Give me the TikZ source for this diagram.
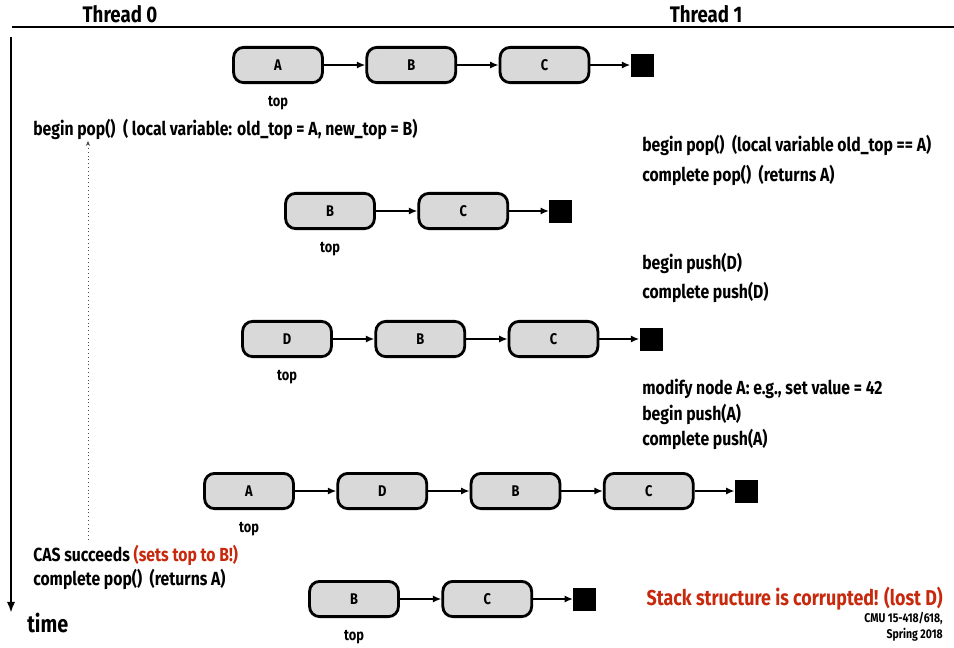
\documentclass[tikz,border=0pt]{standalone}
\usepackage{fontspec}
\setmainfont{Fira Sans}[FakeStretch=0.83]
\usepackage{tikz}
\usetikzlibrary{arrows.meta,positioning}
\definecolor{alarm}{RGB}{200,40,12}

\begin{document}
\begin{tikzpicture}[x=0.025cm,y=-0.025cm,
  cell/.style={draw,line width=2pt,rounded corners=0.25cm,fill=black!15,
    minimum width=2.22cm,minimum height=0.88cm,font=\bfseries\fontsize{11}{13}\selectfont},
  nil/.style={fill=black,minimum size=0.575cm,inner sep=0pt},
  link/.style={-{Latex[length=6pt,width=5pt]},line width=1.3pt},
  toplbl/.style={font=\bfseries\fontsize{11}{13}\selectfont},
  event/.style={anchor=west,inner sep=0pt,font=\bfseries\fontsize{13.5}{16}\selectfont},
  header/.style={font=\bfseries\fontsize{16}{18}\selectfont},
  node distance=1.04cm]
  \useasboundingbox (0,0) rectangle (954,647);
  % Headers and rule
  \node[header] (th0) at (120,14) {Thread 0};
  \node[header] (th1) at (706,14) {Thread 1};
  \coordinate (ruleL) at (12,27);
  \coordinate (ruleR) at (954,27);
  \draw[line width=0.8pt] (ruleL) -- (ruleR);
  % Time axis
  \coordinate (tstart) at (11,37);
  \coordinate (tend) at (11,613);
  \draw[-{Latex[length=8pt,width=6pt]},line width=1.6pt] (tstart) -- (tend);
  \node[anchor=west,inner sep=0pt,font=\bfseries\fontsize{17}{19}\selectfont] (time) at (27,623) {time};

  % Stack 1: A -> B -> C
  \node[cell] (a1) at (278,65) {A};
  \node[cell,right=of a1] (b1) {B};
  \node[cell,right=of b1] (c1) {C};
  \node[nil,right=1.0cm of c1] (n1) {};
  \node[toplbl,below=0.17cm of a1] (t1) {top};
  \draw[link] (a1) -- (b1);
  \draw[link] (b1) -- (c1);
  \draw[link] (c1) -- (n1);

  % Thread 0 starts pop
  \node[event] (pop0) at (33,129) {begin pop()\ \ ( local variable: old\_top = A, new\_top = B)};

  % Thread 1 pops A
  \node[event] (pop1) at (642,145) {begin pop()\ \ (local variable old\_top == A)};
  \node[event] (done1) at (642,175) {complete pop()\ \ (returns A)};

  % Stack 2: B -> C
  \node[cell] (b2) at (330,211) {B};
  \node[cell,right=of b2] (c2) {C};
  \node[nil,right=1.0cm of c2] (n2) {};
  \node[toplbl,below=0.17cm of b2] (t2) {top};
  \draw[link] (b2) -- (c2);
  \draw[link] (c2) -- (n2);

  % Thread 1 pushes D
  \node[event] (pushD) at (642,263) {begin push(D)};
  \node[event] (doneD) at (642,292) {complete push(D)};

  % Stack 3: D -> B -> C
  \node[cell] (d3) at (287,339) {D};
  \node[cell,right=of d3] (b3) {B};
  \node[cell,right=of b3] (c3) {C};
  \node[nil,right=1.0cm of c3] (n3) {};
  \node[toplbl,below=0.17cm of d3] (t3) {top};
  \draw[link] (d3) -- (b3);
  \draw[link] (b3) -- (c3);
  \draw[link] (c3) -- (n3);

  % Thread 1 reuses A
  \node[event] (modA) at (642,389) {modify node A: e.g., set value = 42};
  \node[event] (pushA) at (642,414) {begin push(A)};
  \node[event] (doneA) at (642,439) {complete push(A)};

  % Stack 4: A -> D -> B -> C
  \node[cell] (a4) at (249,491) {A};
  \node[cell,right=of a4] (d4) {D};
  \node[cell,right=of d4] (b4) {B};
  \node[cell,right=of b4] (c4) {C};
  \node[nil,right=1.0cm of c4] (n4) {};
  \node[toplbl,below=0.17cm of a4] (t4) {top};
  \draw[link] (a4) -- (d4);
  \draw[link] (d4) -- (b4);
  \draw[link] (b4) -- (c4);
  \draw[link] (c4) -- (n4);

  % Thread 0 finishes pop
  \coordinate (waitlo) at (88,540);
  \coordinate (waithi) at (88,141);
  \draw[dotted,line width=0.7pt,black!70,-{Stealth[length=3.5pt,width=3pt]}] (waitlo) -- (waithi);
  \node[event] (cas) at (33,555) {CAS succeeds \textcolor{alarm}{(sets top to B!)}};
  \node[event] (done0) at (33,579) {complete pop()\ \ (returns A)};

  % Stack 5: B -> C
  \node[cell] (b5) at (354,599) {B};
  \node[cell,right=of b5] (c5) {C};
  \node[nil,right=1.0cm of c5] (n5) {};
  \node[toplbl,below=0.17cm of b5] (t5) {top};
  \draw[link] (b5) -- (c5);
  \draw[link] (c5) -- (n5);

  % Verdict
  \node[anchor=east,inner sep=0pt,text=alarm,font=\bfseries\fontsize{15.3}{18}\selectfont] (lost) at (943,599) {Stack structure is corrupted! (lost D)};
  \node[anchor=north east,align=right,inner sep=0pt,font=\bfseries\fontsize{9}{11}\selectfont] (cite) at (943,612) {CMU 15-418/618,\\Spring 2018};
\end{tikzpicture}
\end{document}
